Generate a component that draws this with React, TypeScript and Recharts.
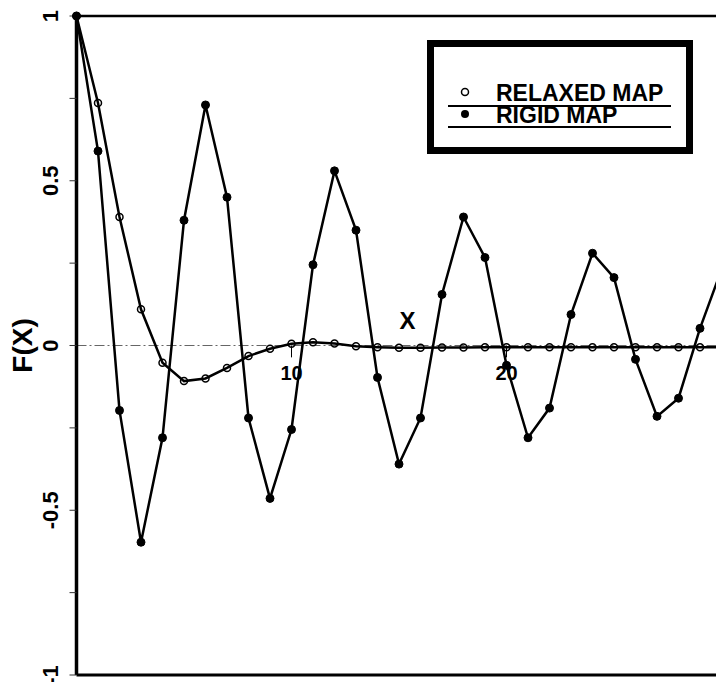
import React from 'react';
import { LineChart, Line, XAxis, YAxis, ReferenceLine, ReferenceDot, Legend, Label } from 'recharts';

const lags = [0, 1, 2, 3, 4, 5, 6, 7, 8, 9, 10, 11, 12, 13, 14, 15, 16, 17, 18, 19, 20, 21, 22, 23, 24, 25, 26, 27, 28, 29, 30];

const relaxedMap = [
  1.0, 0.736, 0.39, 0.11, -0.052, -0.108, -0.1, -0.068, -0.032, -0.01, 0.005,
  0.01, 0.006, -0.002, -0.005, -0.007, -0.007, -0.006, -0.006, -0.005, -0.005,
  -0.005, -0.005, -0.005, -0.005, -0.005, -0.005, -0.005, -0.005, -0.005, -0.005,
];

const rigidMap = [
  1.0, 0.59, -0.197, -0.597, -0.28, 0.38, 0.73, 0.45, -0.22, -0.464, -0.255,
  0.245, 0.53, 0.35, -0.097, -0.36, -0.22, 0.155, 0.39, 0.267, -0.06,
  -0.28, -0.19, 0.094, 0.28, 0.206, -0.042, -0.215, -0.16, 0.052, 0.23,
];

const yTicks = [-1, -0.75, -0.5, -0.25, 0, 0.25, 0.5, 0.75, 1];
const yLabelled = [-1, -0.5, 0, 0.5, 1];
const xTickLabels = [10, 20];

const data = lags.map((x, i) => ({ x, relaxed: relaxedMap[i], rigid: rigidMap[i] }));

const FONT = '"Liberation Sans", Arial, Helvetica, sans-serif';

const YTick = ({ x, y, payload }: any) => {
  if (!yLabelled.includes(payload.value)) return null;
  const tx = x - 10;
  return (
    <text
      x={tx}
      y={y}
      transform={`rotate(-90, ${tx}, ${y})`}
      textAnchor="middle"
      fontFamily={FONT}
      fontWeight="bold"
      fontSize={22}
      fill="#000"
    >
      {String(payload.value)}
    </text>
  );
};

const LegendBox = () => (
  <svg width={266} height={114} style={{ display: 'block' }}>
    <rect x={3.5} y={3.5} width={259} height={107} fill="#fff" stroke="#000" strokeWidth={7} />
    <circle cx={38} cy={52} r={3.5} fill="none" stroke="#000" strokeWidth={1.5} />
    <text x={69} y={61} fontFamily={FONT} fontWeight="bold" fontSize={23} fill="#000">
      RELAXED MAP
    </text>
    <line x1={21} x2={244} y1={66} y2={66} stroke="#000" strokeWidth={2} />
    <circle cx={38} cy={74} r={4} fill="#000" />
    <text x={69} y={83} fontFamily={FONT} fontWeight="bold" fontSize={23} fill="#000">
      RIGID MAP
    </text>
    <line x1={21} x2={244} y1={87} y2={87} stroke="#000" strokeWidth={2} />
  </svg>
);

export default function App() {
  return (
    <div style={{ position: 'fixed', left: 0, top: 0, width: 716, height: 682, overflow: 'hidden', background: '#fff' }}>
      <LineChart width={740} height={682} data={data} margin={{ top: 16, right: 18.5, bottom: 7, left: 0 }}>
        <XAxis dataKey="x" type="number" domain={[0, 30]} hide />
        <YAxis
          type="number"
          domain={[-1, 1]}
          ticks={yTicks}
          width={76.5}
          tickSize={7}
          axisLine={{ stroke: '#000', strokeWidth: 3.5 }}
          tickLine={{ stroke: '#333', strokeWidth: 1 }}
          tick={<YTick />}
          interval={0}
          label={{
            content: () => (
              <text
                x={32}
                y={345.5}
                transform="rotate(-90, 32, 345.5)"
                textAnchor="middle"
                fontFamily={FONT}
                fontWeight="bold"
                fontSize={28}
                fill="#000"
              >
                F(X)
              </text>
            ),
          }}
        />
        <ReferenceLine y={1} stroke="#000" strokeWidth={2.5} />
        <ReferenceLine y={-1} stroke="#000" strokeWidth={3} />
        <ReferenceLine y={0} stroke="#666" strokeWidth={1} strokeDasharray="10 3 2 3" />
        {xTickLabels.map((v) => (
          <ReferenceLine
            key={`tk-${v}`}
            segment={[{ x: v, y: 0 }, { x: v, y: -0.036 }]}
            stroke="#000"
            strokeWidth={1}
          />
        ))}
        {xTickLabels.map((v) => (
          <ReferenceDot key={`tl-${v}`} x={v} y={-0.084} r={0} fill="none" stroke="none">
            <Label value={String(v)} position="center" fontFamily={FONT} fontWeight="bold" fontSize={20} fill="#000" />
          </ReferenceDot>
        ))}
        <ReferenceDot x={15.4} y={0.077} r={0} fill="none" stroke="none">
          <Label value="X" position="center" fontFamily={FONT} fontWeight="bold" fontSize={24} fill="#000" />
        </ReferenceDot>
        <Line
          type="linear"
          dataKey="relaxed"
          name="RELAXED MAP"
          stroke="#000"
          strokeWidth={2.5}
          dot={{ r: 3.5, fill: 'none', stroke: '#000', strokeWidth: 1.5 }}
          isAnimationActive={false}
        />
        <Line
          type="linear"
          dataKey="rigid"
          name="RIGID MAP"
          stroke="#000"
          strokeWidth={2.5}
          dot={{ r: 4, fill: '#000', stroke: '#000', strokeWidth: 1 }}
          isAnimationActive={false}
        />
        <Legend
          layout="horizontal"
          verticalAlign="middle"
          align="center"
          content={() => <LegendBox />}
          wrapperStyle={{ left: 427, top: 40, width: 266, height: 114 }}
        />
      </LineChart>
    </div>
  );
}
